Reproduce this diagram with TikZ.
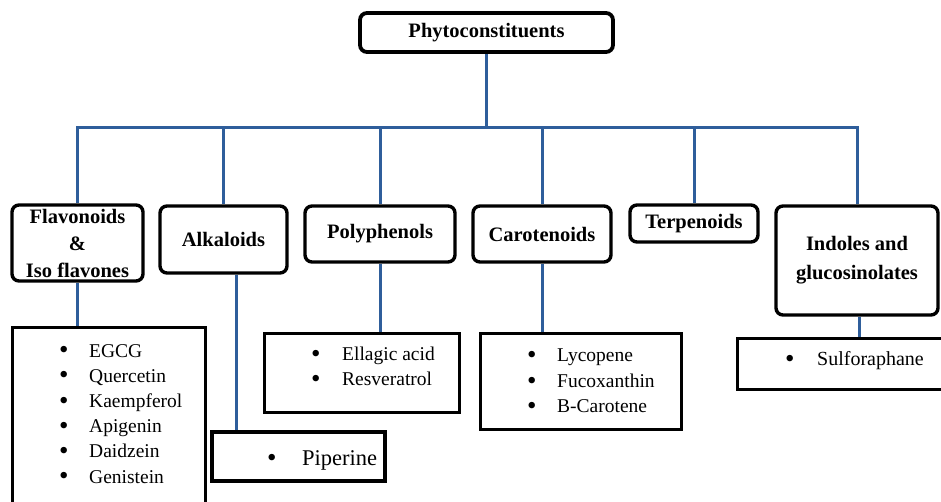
\documentclass[tikz,border=0pt]{standalone}
\usepackage{fontspec}
\setmainfont{Liberation Serif}
\usetikzlibrary{backgrounds}
\definecolor{linkblue}{RGB}{47,94,155}
\tikzset{
  catbox/.style={draw, fill=white, line width=3.4pt, rounded corners=7pt, inner sep=0pt,
                 align=center, font=\bfseries\fontsize{20.5}{27}\selectfont},
  rootbox/.style={catbox, line width=3.8pt},
  listbox/.style={draw, fill=white, line width=3pt, inner sep=0pt},
  listtext/.style={anchor=north west, inner sep=0pt, align=left,
                   font=\fontsize{19.5}{25.3}\selectfont},
  link/.style={draw=linkblue, line width=3pt},
}
% enlarged bullet followed by its item text
\newcommand{\bul}[2][30pt]{\makebox[#1][l]{\raisebox{-1.6pt}{\fontsize{27}{27}\selectfont\textbullet}}#2}

\begin{document}
\begin{tikzpicture}[x=1pt,y=-1pt]
\useasboundingbox (0,0) rectangle (941,502);
\clip (0,0) rectangle (941,502);

\coordinate (hub) at (486.5,128);

% root box
\node[rootbox, minimum width=253pt, minimum height=39pt] (root) at (486.5,32.5) {Phytoconstituents};

% category boxes
\node[catbox, minimum width=131pt, minimum height=76pt] (flav) at (77.5,243)
  {Flavonoids\\\&\\Iso flavones};
\node[catbox, minimum width=127pt, minimum height=67pt] (alk) at (223.5,239.5) {Alkaloids};
\node[catbox, minimum width=150pt, minimum height=56pt] (poly) at (380,234) {Polyphenols};
\node[catbox, minimum width=138pt, minimum height=56pt] (car) at (542,234) {Carotenoids};
\node[catbox, minimum width=128pt, minimum height=37pt] (terp) at (694,223.5) {Terpenoids};
\node[catbox, minimum width=162pt, minimum height=109pt, font=\bfseries\fontsize{20.5}{29}\selectfont]
  (ind) at (857,260.5) {Indoles and\\glucosinolates};

% list boxes
\node[listbox, minimum width=193pt, minimum height=181pt] (flavlist) at (108.5,417.5) {};
\node[listbox, minimum width=173pt, minimum height=49pt, line width=4.4pt] (pip) at (298.5,456.5) {};
\node[listbox, minimum width=195pt, minimum height=79pt] (ell) at (361.5,372.5) {};
\node[listbox, minimum width=201pt, minimum height=96pt] (carlist) at (580.5,381) {};
\node[listbox, minimum width=213pt, minimum height=51pt] (sulf) at (843.5,363.5) {};

% tree links, kept behind the boxes
\begin{scope}[on background layer]
\draw[link] (root.south) -- (root.south |- hub);
\draw[link] (flav.north) |- (hub) -| (ind.north);
\draw[link] (alk.north |- hub) -- (alk.north);
\draw[link] (poly.north |- hub) -- (poly.north);
\draw[link] (car.north |- hub) -- (car.north);
\draw[link] (terp.north |- hub) -- (terp.north);

\draw[link] (flav.south) -- (flav.south |- flavlist.north);
\draw[link] ([xshift=12.5pt]alk.south) -- ([xshift=12.5pt]alk.south |- pip.north);
\draw[link] (poly.south) -- (poly.south |- ell.north);
\draw[link] (car.south) -- (car.south |- carlist.north);
\draw[link] ([xshift=2pt]ind.south) -- ([xshift=2pt]ind.south |- sulf.north);
\end{scope}

% list contents
\node[listtext, font=\fontsize{19.5}{25.2}\selectfont] (flavitems) at (59,344)
  {\bul{EGCG}\\\bul{Quercetin}\\\bul{Kaempferol}\\\bul{Apigenin}\\\bul{Daidzein}\\\bul{Genistein}};
\node[listtext, font=\fontsize{22.5}{27}\selectfont] (pipitems) at (267,450)
  {\bul[35pt]{Piperine}};
\node[listtext] (ellitems) at (311,346.7)
  {\bul[31pt]{Ellagic acid}\\\bul[31pt]{Resveratrol}};
\node[listtext, font=\fontsize{19.5}{25.5}\selectfont] (caritems) at (527,349)
  {\bul{Lycopene}\\\bul{Fucoxanthin}\\\bul{B-Carotene}};
\node[listtext, font=\fontsize{20}{25}\selectfont] (sulfitems) at (785,351.5)
  {\bul[32pt]{Sulforaphane}};
\end{tikzpicture}
\end{document}
